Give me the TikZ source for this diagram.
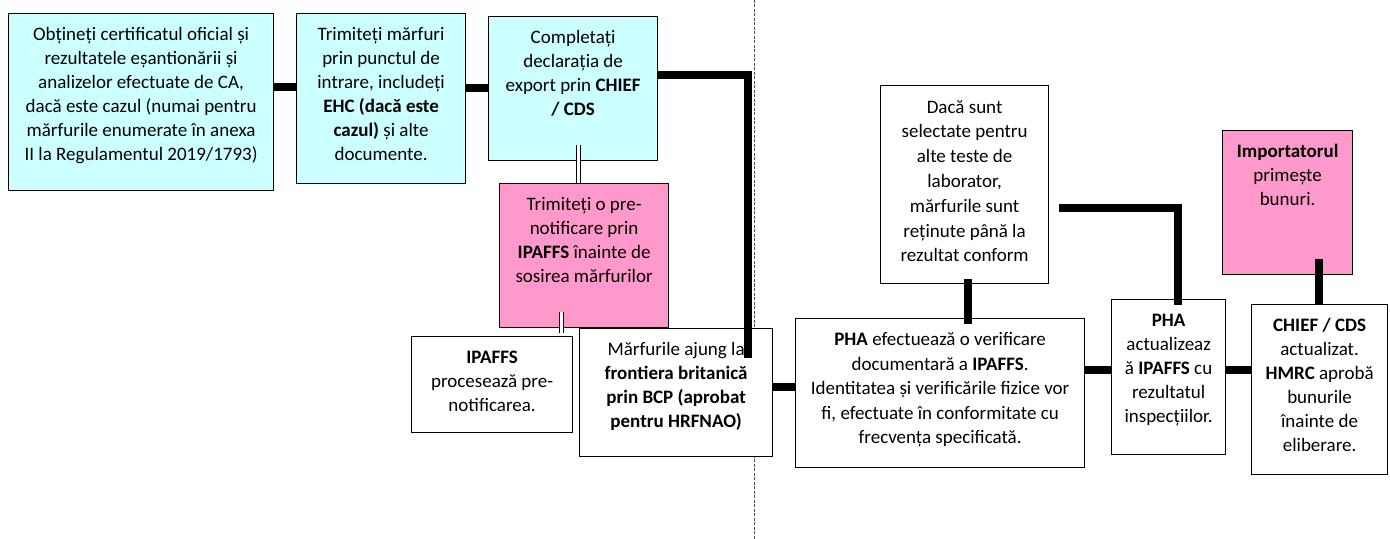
\documentclass[tikz,border=0pt]{standalone}
\usepackage{fontspec}
\setmainfont{Carlito}
\definecolor{cyanbox}{HTML}{CCFFFF}
\definecolor{pinkbox}{HTML}{FF99CC}
\newcommand{\bxtext}[3]{\parbox[t][#2][t]{#1}{\centering\vspace*{5.1pt}\strut #3}}
\begin{document}
\begin{tikzpicture}[x=0.5pt,y=-0.5pt,
  box/.style={draw, line width=0.6pt, inner sep=0pt, anchor=north west, font=\fontsize{9.5pt}{12pt}\selectfont},
  cyanb/.style={box, fill=cyanbox},
  pinkb/.style={box, fill=pinkbox},
  whiteb/.style={box, fill=white},
  conn/.style={line width=3.9pt, line join=miter},
  dconn/.style={double, double distance=1.5pt, line width=0.5pt},
  divider/.style={draw=black!70, line width=0.5pt, dash pattern=on 1.5pt off 0.75pt}]
\useasboundingbox (0,0) rectangle (1390,539);
% divider
\coordinate (dtop) at (754,0);
\coordinate (dbot) at (754,539);
\draw[divider] (dtop) -- (dbot);
% boxes
\node[cyanb] (b1) at (8,13) {\bxtext{132.5pt}{88.5pt}{Obțineți certificatul oficial și\\rezultatele eșantionării și\\analizelor efectuate de CA,\\dacă este cazul (numai pentru\\mărfurile enumerate în anexa\\II la Regulamentul 2019/1793)}};
\node[cyanb] (b2) at (296,13) {\bxtext{84.5pt}{85pt}{Trimiteți mărfuri\\prin punctul de\\intrare, includeți\\\textbf{EHC (dacă este}\\\textbf{cazul)} și alte\\documente.}};
\node[cyanb] (b3) at (488,16) {\bxtext{84.5pt}{72pt}{Completați\\declarația de\\export prin \textbf{CHIEF}\\\textbf{/ CDS}}};
\node[pinkb] (p1) at (499,183) {\bxtext{84.5pt}{72pt}{Trimiteți o pre-\\notificare prin\\\textbf{IPAFFS} înainte de\\sosirea mărfurilor}};
\node[whiteb] (ip) at (411,336) {\bxtext{80.5pt}{48pt}{\textbf{IPAFFS}\\procesează pre-\\notificarea.}};
\node[whiteb] (m) at (579,328) {\bxtext{96.5pt}{64pt}{Mărfurile ajung la\\\textbf{frontiera britanică}\\\textbf{prin BCP (aprobat}\\\textbf{pentru HRFNAO)}}};
\node[whiteb, font=\fontsize{9.5pt}{12.4pt}\selectfont] (d) at (880,85) {\bxtext{84pt}{99pt}{Dacă sunt\\selectate pentru\\alte teste de\\laborator,\\mărfurile sunt\\reținute până la\\rezultat conform}};
\node[whiteb, font=\fontsize{9.5pt}{12.2pt}\selectfont] (pha) at (795,318) {\bxtext{144.5pt}{74.5pt}{\textbf{PHA} efectuează o verificare\\documentară a \textbf{IPAFFS}.\\Identitatea și verificările fizice vor\\fi, efectuate în conformitate cu\\frecvența specificată.}};
\node[whiteb] (pha2) at (1111,299) {\bxtext{57pt}{77.5pt}{\textbf{PHA}\\actualizeaz\\ă \textbf{IPAFFS} cu\\rezultatul\\inspecțiilor.}};
\node[whiteb] (chief) at (1251,304) {\bxtext{68pt}{85pt}{\textbf{CHIEF / CDS}\\actualizat.\\\textbf{HMRC} aprobă\\bunurile\\înainte de\\eliberare.}};
\node[pinkb] (imp) at (1222,130) {\bxtext{65pt}{72pt}{\textbf{Importatorul}\\primește\\bunuri.}};
% helper coordinates
\coordinate (mEnd) at (748,358);
\coordinate (dbl1a) at (578,145);
\coordinate (dbl1b) at (578,183);
\coordinate (dbl2a) at (561,312);
\coordinate (dbl2b) at (561,333);
\coordinate (dStart) at (1059,208);
\coordinate (phaTwoEnd) at (1178,305);
\coordinate (dBotIn) at (968,279);
\coordinate (phaTopIn) at (968,324);
\coordinate (impIn) at (1319,259);
\coordinate (chiefIn) at (1319,304);
% connectors
\draw[conn] (b1.east |- 0,87) -- (b2.west |- 0,87);
\draw[conn] (b2.east |- 0,88) -- (b3.west |- 0,88);
\draw[conn] (b3.east |- 0,75) -| (mEnd);
\draw[dconn] (dbl1a) -- (dbl1b);
\draw[dconn] (dbl2a) -- (dbl2b);
\draw[conn] (m.east |- 0,387) -- (pha.west |- 0,387);
\draw[conn] (dBotIn) -- (phaTopIn);
\draw[conn] (pha.east |- 0,370) -- (pha2.west |- 0,370);
\draw[conn] (dStart) -| (phaTwoEnd);
\draw[conn] (pha2.east |- 0,370) -- (chief.west |- 0,370);
\draw[conn] (impIn) -- (chiefIn);
\end{tikzpicture}
\end{document}
